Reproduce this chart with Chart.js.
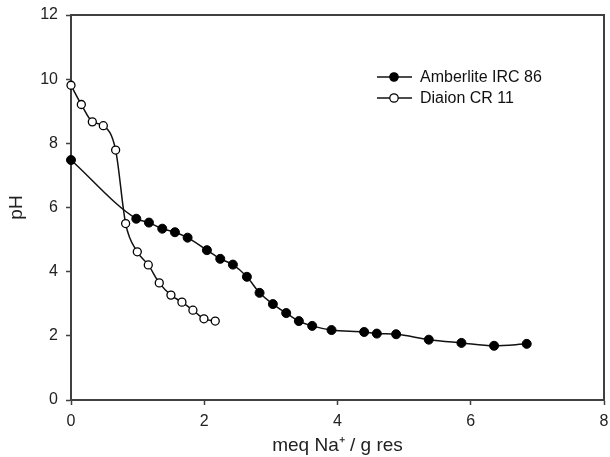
<!DOCTYPE html>
<html>
<head>
<meta charset="utf-8">
<script src="https://cdn.jsdelivr.net/npm/chart.js@4/dist/chart.umd.min.js"></script>
<style>
  html, body { margin: 0; padding: 0; background: #fff; }
  #wrap { width: 610px; height: 457px; }
</style>
</head>
<body>
<div id="wrap"><canvas id="c" width="610" height="457"></canvas></div>
<script>
// ---- data ----
const seriesNames = ["Amberlite IRC 86", "Diaion CR 11"];
const amberliteX  = [0, 0.98, 1.17, 1.37, 1.56, 1.75, 2.04, 2.24, 2.43, 2.64, 2.83, 3.03, 3.23, 3.42, 3.62, 3.91, 4.40, 4.59, 4.88, 5.37, 5.86, 6.35, 6.84];
const amberlitePH = [7.48, 5.65, 5.53, 5.34, 5.23, 5.06, 4.67, 4.40, 4.22, 3.84, 3.34, 2.99, 2.71, 2.46, 2.31, 2.18, 2.12, 2.07, 2.05, 1.88, 1.78, 1.69, 1.75];
const diaionX     = [0, 0.155, 0.32, 0.485, 0.67, 0.82, 0.995, 1.16, 1.325, 1.50, 1.665, 1.83, 1.995, 2.165];
const diaionPH    = [9.81, 9.21, 8.67, 8.55, 7.79, 5.50, 4.62, 4.21, 3.65, 3.27, 3.05, 2.80, 2.53, 2.46];
const xTicks = [0, 2, 4, 6, 8];
const yTicks = [0, 2, 4, 6, 8, 10, 12];
const xTitle = "meq Na\u207A / g res";
const yTitle = "pH";

const FONT = "'Liberation Sans', Arial, sans-serif";
const AXIS = '#404040';

function pts(xs, ys) { return xs.map((x, i) => ({ x: x, y: ys[i] })); }

const framePlugin = {
  id: 'frame',
  beforeDatasetsDraw(chart) {
    const { ctx, chartArea: a } = chart;
    ctx.save();
    ctx.strokeStyle = AXIS;
    ctx.lineWidth = 2;
    ctx.beginPath();
    ctx.moveTo(a.left, a.top);
    ctx.lineTo(a.right, a.top);
    ctx.lineTo(a.right, a.bottom);
    ctx.stroke();
    ctx.restore();
  }
};

const legendPlugin = {
  id: 'customLegend',
  afterDraw(chart) {
    const ctx = chart.ctx;
    const x0 = 377, x1 = 412, xm = 394, xt = 420;
    const rows = [77, 98];
    ctx.save();
    chart.data.datasets.forEach((ds, i) => {
      const y = rows[i];
      ctx.strokeStyle = ds.borderColor;
      ctx.lineWidth = 1.5;
      ctx.beginPath(); ctx.moveTo(x0, y); ctx.lineTo(x1, y); ctx.stroke();
      ctx.beginPath();
      ctx.arc(xm, y, 4.2, 0, Math.PI * 2);
      ctx.fillStyle = ds.pointBackgroundColor;
      ctx.fill();
      ctx.lineWidth = 1.2;
      ctx.strokeStyle = ds.pointBorderColor;
      ctx.stroke();
      ctx.fillStyle = '#111';
      ctx.font = '16px ' + FONT;
      ctx.textBaseline = 'middle';
      ctx.textAlign = 'left';
      ctx.fillText(ds.label, xt, y + 1);
    });
    ctx.restore();
  }
};

new Chart(document.getElementById('c'), {
  type: 'line',
  data: {
    datasets: [
      {
        label: seriesNames[0],
        data: pts(amberliteX, amberlitePH),
        borderColor: '#111',
        borderWidth: 1.5,
        pointRadius: 4.5,
        pointBackgroundColor: '#000',
        pointBorderColor: '#000',
        pointBorderWidth: 1,
        cubicInterpolationMode: 'monotone',
        clip: false
      },
      {
        label: seriesNames[1],
        data: pts(diaionX, diaionPH),
        borderColor: '#111',
        borderWidth: 1.5,
        pointRadius: 4,
        pointBackgroundColor: '#fff',
        pointBorderColor: '#000',
        pointBorderWidth: 1.3,
        cubicInterpolationMode: 'monotone',
        clip: false
      }
    ]
  },
  options: {
    responsive: false,
    animation: false,
    layout: { padding: { top: 15, right: 6, left: 0, bottom: 0 } },
    plugins: { legend: { display: false }, tooltip: { enabled: false } },
    scales: {
      x: {
        type: 'linear', min: 0, max: 8,
        afterBuildTicks: s => { s.ticks = xTicks.map(v => ({ value: v })); },
        afterFit: s => { s.height = 57; s.paddingLeft = 0; s.paddingRight = 0; },
        ticks: { color: '#222', font: { family: FONT, size: 16 }, padding: 7, maxRotation: 0 },
        grid: { display: true, drawOnChartArea: false, drawTicks: true, tickLength: 5, color: AXIS, tickWidth: 1.5 },
        border: { display: true, color: AXIS, width: 2 },
        title: { display: true, text: xTitle, color: '#222', font: { family: FONT, size: 19 }, padding: { top: 0, bottom: 0 } }
      },
      y: {
        type: 'linear', min: 0, max: 12,
        afterBuildTicks: s => { s.ticks = yTicks.map(v => ({ value: v })); },
        afterFit: s => { s.width = 71; s.paddingTop = 0; s.paddingBottom = 0; },
        ticks: { color: '#222', font: { family: FONT, size: 16 }, padding: 8 },
        grid: { display: true, drawOnChartArea: false, drawTicks: true, tickLength: 5, color: AXIS, tickWidth: 1.5 },
        border: { display: true, color: AXIS, width: 2 },
        title: { display: true, text: yTitle, color: '#222', font: { family: FONT, size: 19 }, padding: { top: 5, bottom: 0 } }
      }
    }
  },
  plugins: [framePlugin, legendPlugin]
});
</script>
</body>
</html>
